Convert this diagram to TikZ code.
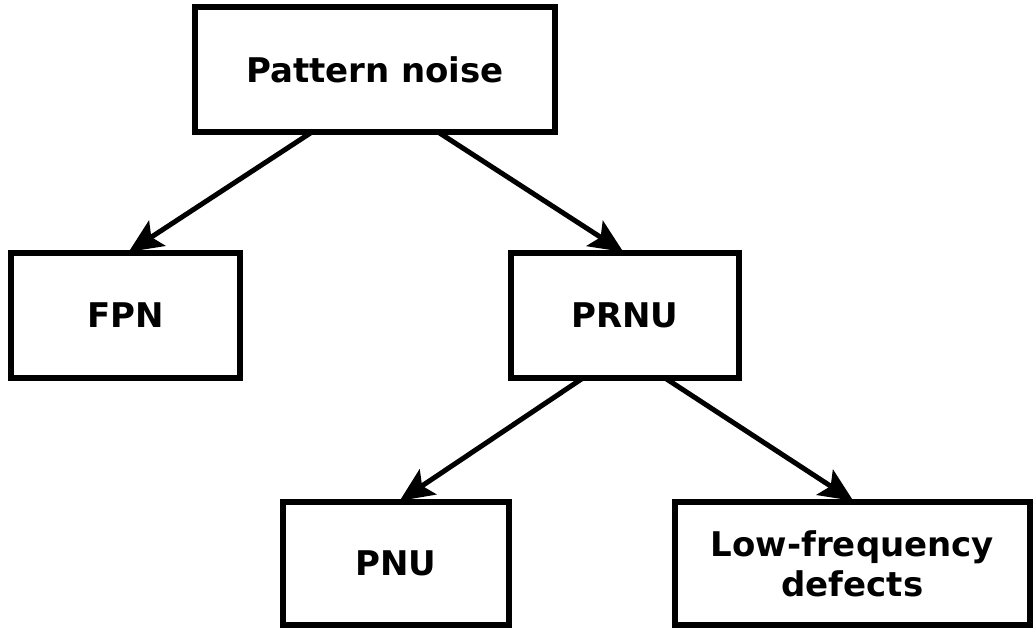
\documentclass[tikz,border=0pt]{standalone}
\usepackage{fontspec}
\setmainfont{DejaVu Sans}
\usetikzlibrary{arrows.meta,calc}
\tikzset{
  box/.style={draw=black, line width=5.5pt, rectangle, inner sep=0pt, outer sep=0pt,
    minimum height=125pt, align=center,
    font=\fontsize{34}{40}\selectfont\bfseries},
  link/.style={line width=5pt, -{Stealth[length=34pt,width=30pt,inset=7pt]}, shorten >=2pt}
}
\begin{document}
\begin{tikzpicture}[x=1pt,y=-1pt]
  \useasboundingbox (0,0) rectangle (1034,631);
  % tree of boxes
  \node[box, minimum width=360pt] (pn)  at (375,69.5)    {Pattern noise};
  \node[box, minimum width=229pt] (fpn) at (125.5,315.5) {FPN};
  \node[box, minimum width=228pt] (prnu) at (625,315.5)  {PRNU};
  \node[box, minimum width=226pt, minimum height=123pt] (pnu) at (396,563.5) {PNU};
  \node[box, minimum width=355pt, minimum height=123pt] (lf)  at (852.5,563.5) {Low-frequency\\defects};
  % connectors
  \draw[link] ($(pn.south)+(-63,0)$) -- ($(fpn.north)+(1.5,0)$);
  \draw[link] ($(pn.south)+(63,0)$) -- (prnu.north);
  \draw[link] ($(prnu.south)+(-42,0)$) -- ($(pnu.north)+(2,0)$);
  \draw[link] ($(prnu.south)+(40,0)$) -- ($(lf.north)+(2.5,0)$);
\end{tikzpicture}
\end{document}
